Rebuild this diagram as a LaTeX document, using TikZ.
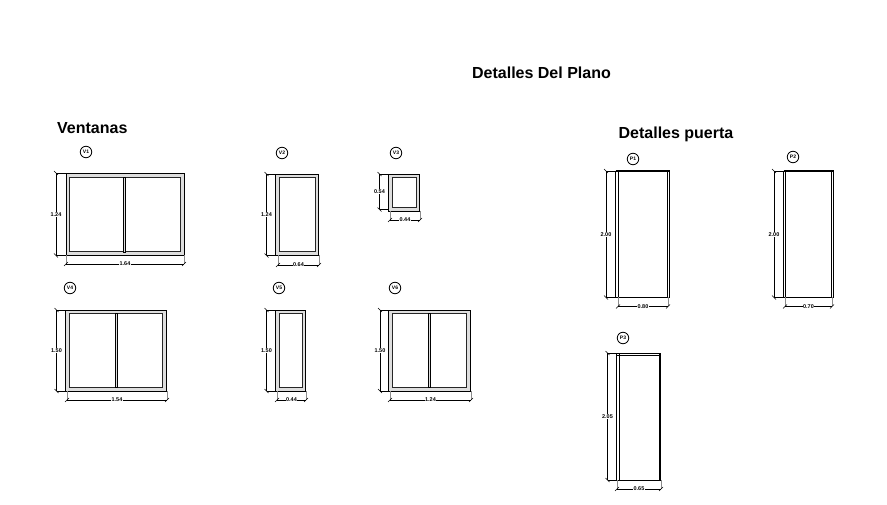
\documentclass[tikz,border=0pt]{standalone}
\usepackage{fontspec}
\setmainfont{Liberation Sans}
\usetikzlibrary{calc}
\tikzstyle{marco}=[draw=black,fill=black!13,line width=0.8pt]
\tikzstyle{vidrio}=[draw=black!85,fill=white,line width=1pt]
\tikzstyle{puerta}=[draw=black,fill=white,line width=0.8pt]
\tikzstyle{cota}=[line width=0.55pt]
\tikzstyle{guia}=[draw=black!45,line width=0.5pt]
\tikzstyle{cifra}=[font=\fontsize{5.5}{6}\selectfont\bfseries,fill=white,inner sep=0.6pt]
\tikzstyle{marca}=[circle,draw=black,line width=0.8pt,minimum size=11.5pt,inner sep=0pt,font=\fontsize{5}{5}\selectfont\bfseries]
\tikzstyle{titulo}=[font=\fontsize{16}{18}\selectfont\bfseries,inner sep=0pt]
% cota vertical: nombre, x, y arriba, y abajo, x del marco, texto
\newcommand{\cotaV}[6]{
	\draw[cota] (#2,#3) -- (#2,#4);
	\draw[cota] (#2,#3) -- (#5,#3);
	\draw[cota] (#2,#4) -- (#5,#4);
	\draw[cota] (#2-2,#3-2) -- (#2+2,#3+2);
	\draw[cota] (#2-2,#4-2) -- (#2+2,#4+2);
	\node[cifra] (#1) at (#2,{(#3+#4)/2}) {#6};
}
% cota horizontal: nombre, y, x izq, x der, y del marco, texto
\newcommand{\cotaH}[6]{
	\draw[guia] (#3,#5) -- (#3,#2);
	\draw[guia] (#4,#5) -- (#4,#2);
	\draw[cota] (#3,#2) -- (#4,#2);
	\draw[cota] (#3-2,#2+2) -- (#3+2,#2-2);
	\draw[cota] (#4-2,#2+2) -- (#4+2,#2-2);
	\node[cifra] (#1) at ({(#3+#4)/2},#2) {#6};
}
\begin{document}
\begin{tikzpicture}[x=1pt,y=-1pt]
	\useasboundingbox (0,0) rectangle (887,505);

	\node[titulo] (plano) at (541.5,72.5) {Detalles Del Plano};
	\node[titulo,anchor=west] (ventanas) at (57,128) {Ventanas};
	\node[titulo] (puertas) at (676,134) {Detalles puerta};

	\node[marca] (v1) at (86,152) {V1};
	\node[marca] (v2) at (282,153) {V2};
	\node[marca] (v3) at (396,153) {V3};
	\node[marca] (v4) at (70,288) {V4};
	\node[marca] (v5) at (279,288) {V5};
	\node[marca] (v6) at (395,288) {V6};
	\node[marca] (p1) at (633,159) {P1};
	\node[marca] (p2) at (793,157) {P2};
	\node[marca] (p3) at (623,338) {P3};

	\draw[marco] (66,173) rectangle (184,255.5);
	\draw[vidrio] (69.5,177.5) rectangle (180.5,252);
	\draw[marco] (123.5,177.5) rectangle (125.5,252);
	\cotaV{c1a}{56}{173}{255.5}{66}{1.24}
	\cotaH{c1b}{264}{66}{184}{255.5}{1.64}

	\draw[marco] (275.5,174) rectangle (318.5,255.5);
	\draw[vidrio] (279,177.5) rectangle (315,252);
	\cotaV{c2a}{266.5}{174}{255.5}{275.5}{1.24}
	\cotaH{c2b}{265}{278}{319}{255.5}{0.64}

	\draw[marco] (388.5,174) rectangle (419.5,211);
	\draw[vidrio] (392,177.5) rectangle (416,208);
	\cotaV{c3a}{379.5}{174}{209.5}{388.5}{0.54}
	\cotaH{c3b}{220}{390}{420}{211}{0.44}

	\draw[marco] (65.5,310) rectangle (166,391);
	\draw[vidrio] (69,313.5) rectangle (162.5,387.5);
	\draw[marco] (115,313.5) rectangle (117,387.5);
	\cotaV{c4a}{56.5}{310}{391}{65.5}{1.50}
	\cotaH{c4b}{400}{67}{167}{391}{1.54}

	\draw[marco] (275.5,310) rectangle (305,391);
	\draw[vidrio] (279,313.5) rectangle (302.5,387.5);
	\cotaV{c5a}{266.5}{310}{391}{275.5}{1.50}
	\cotaH{c5b}{400}{277}{306}{391}{0.44}

	\draw[marco] (388.5,310) rectangle (470,391);
	\draw[vidrio] (392,313.5) rectangle (466.5,387.5);
	\draw[marco] (428.5,313.5) rectangle (430,387.5);
	\cotaV{c6a}{380}{310}{391}{388.5}{1.50}
	\cotaH{c6b}{400}{390}{471}{391}{1.24}

	\draw[puerta] (615.5,171) rectangle (669.5,297.5);
	\draw[puerta] (618.5,171) -- (618.5,297.5);
	\draw[puerta] (667,171) -- (667,297.5);
	\draw[puerta,line width=1.1pt] (615.5,171) -- (669.5,171);
	\cotaV{c7a}{606}{171}{297.5}{615.5}{2.00}
	\cotaH{c7b}{306.5}{618}{668}{297.5}{0.80}

	\draw[puerta] (783.5,171) rectangle (833.5,297.5);
	\draw[puerta] (785,171) -- (785,297.5);
	\draw[puerta] (831,171) -- (831,297.5);
	\draw[puerta,line width=1.1pt] (783.5,171) -- (833.5,171);
	\cotaV{c8a}{774}{171}{297.5}{783.5}{2.00}
	\cotaH{c8b}{306.5}{785}{832}{297.5}{0.70}

	\draw[puerta] (616.5,353) rectangle (660.5,480);
	\draw[puerta] (619,353) -- (619,480);
	\draw[puerta] (659,353) -- (659,480);
	\draw[puerta] (616.5,355.5) -- (660.5,355.5);
	\cotaV{c9a}{607.5}{353}{480}{616.5}{2.05}
	\cotaH{c9b}{489}{617}{661}{480}{0.65}
\end{tikzpicture}
\end{document}
